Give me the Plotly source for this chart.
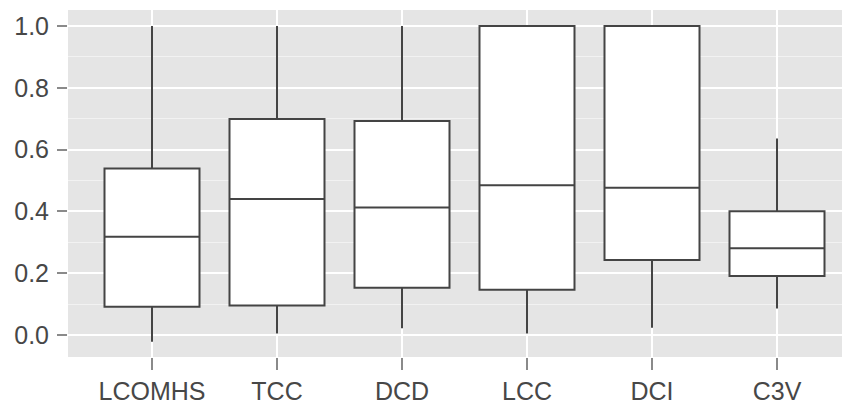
import plotly.graph_objects as go

# box summaries
metrics = ["LCOMHS", "TCC", "DCD", "LCC", "DCI", "C3V"]
lower = [-0.022, 0.005, 0.022, 0.005, 0.024, 0.086]
q1 = [0.092, 0.096, 0.153, 0.147, 0.243, 0.191]
median = [0.318, 0.440, 0.413, 0.485, 0.477, 0.281]
q3 = [0.539, 0.699, 0.693, 1.0, 1.0, 0.401]
upper = [1.0, 1.0, 1.0, 1.0, 1.0, 0.636]

y_ticks = [0.0, 0.2, 0.4, 0.6, 0.8, 1.0]

fig = go.Figure()
fig.add_trace(go.Box(
    x=metrics, q1=q1, median=median, q3=q3,
    lowerfence=lower, upperfence=upper,
    width=0.76, whiskerwidth=0,
    fillcolor="white",
    line=dict(color="#444444", width=2),
    boxpoints=False, hoverinfo="skip", showlegend=False,
))

axis_font = dict(family="Liberation Sans, Arial, sans-serif", size=25, color="#474747")

# page body has an 8px margin, so the figure is sized/offset to fit the window
fig.update_layout(
    width=842, height=397,
    margin=dict(l=60, r=0, t=2, b=48),
    paper_bgcolor="white",
    plot_bgcolor="#E5E5E5",
    xaxis=dict(
        type="category",
        range=[-0.672, 5.584],
        showgrid=True, gridcolor="white", gridwidth=1.8,
        ticks="outside", ticklen=12, tickwidth=1.5, tickcolor="#8A8A8A",
        tickfont=axis_font, zeroline=False, showline=False,
    ),
    yaxis=dict(
        range=[-0.071, 1.052],
        tickvals=y_ticks, tickformat=".1f",
        showgrid=True, gridcolor="white", gridwidth=1.8,
        minor=dict(dtick=0.1, tick0=0, showgrid=True, gridcolor="#F2F2F2", gridwidth=0.9),
        ticks="outside", ticklen=10, tickwidth=1.5, tickcolor="#8A8A8A",
        ticklabelstandoff=3,
        tickfont=axis_font, zeroline=False, showline=False,
    ),
)

fig.write_html("out.html")
